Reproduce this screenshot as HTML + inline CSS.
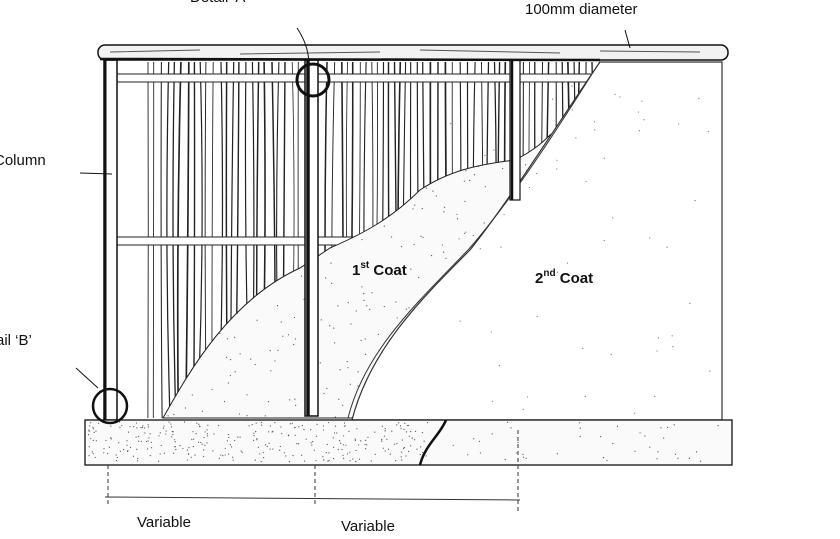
<!DOCTYPE html>
<html><head><meta charset="utf-8"><style>
html,body{margin:0;padding:0;background:#fff;}
svg{display:block;}
text{font-family:"Liberation Sans",sans-serif;fill:#111;}
</style></head><body>
<svg id="s" width="840" height="539" viewBox="0 0 840 539" xmlns="http://www.w3.org/2000/svg">
<defs>
<clipPath id="wc"><rect x="146" y="60" width="455" height="360"/></clipPath>
<clipPath id="c1"><path d="M163,418 C190,370 230,300 300,268 L330,248 C360,235 390,220 420,190 C450,170 480,165 500,162 L515,160 C535,150 545,140 550,135 L548,175 C500,230 430,300 352,418 Z"/></clipPath>
</defs>
<g id="wattle" clip-path="url(#wc)" stroke="#222" stroke-width="1" fill="none"></g>
<g stroke="#222" fill="#fff" stroke-width="1">
<rect x="114" y="74" width="480" height="8" rx="4"/>
<rect x="114" y="237" width="270" height="8" rx="4"/>
</g>
<path d="M163,418 C190,370 230,300 300,268 L330,248 C360,235 390,220 420,190 C450,170 480,165 500,162 L515,160 C535,150 545,140 550,135 L548,175 C500,230 430,300 352,418 Z" fill="#fafafa" stroke="#222" stroke-width="1"/>
<g id="d1" fill="#555" clip-path="url(#c1)"></g>
<path d="M600,62 L722,62 L722,420 L352,420 C370,350 420,300 470,250 C510,200 560,120 600,62 Z" fill="#fff" stroke="#333" stroke-width="1.2"/>
<path d="M597,66 C560,125 512,200 468,250 C420,300 365,350 348,418" fill="none" stroke="#333" stroke-width="1"/>
<g id="d2" fill="#777"></g>
<g stroke="#111" fill="#fff">
<rect x="104" y="60" width="13" height="360" stroke-width="1.5"/>
<line x1="105" y1="60" x2="105" y2="420" stroke-width="3"/>
<rect x="305" y="60" width="13" height="356" stroke-width="1.5"/>
<line x1="308" y1="60" x2="308" y2="416" stroke-width="3.5"/>
<rect x="510" y="60" width="10" height="140" stroke-width="1.2"/>
<line x1="512" y1="60" x2="512" y2="200" stroke-width="2.5"/>
</g>
<rect x="98" y="45" width="630" height="15" rx="7" fill="#f2f2f2" stroke="#111" stroke-width="1.5"/>
<path d="M110,52 L200,50 M240,54 L380,52 M420,50 L560,53 M600,51 L700,52" stroke="#555" stroke-width="1"/>
<line x1="100" y1="59" x2="600" y2="60" stroke="#111" stroke-width="2.5"/>
<rect x="85" y="420" width="647" height="45" fill="#fafafa" stroke="#111" stroke-width="1.3"/>
<path d="M446,420 C440,435 425,445 420,465" fill="none" stroke="#111" stroke-width="2.5"/>
<g id="dots" fill="#555"></g>
<circle cx="313" cy="80" r="16" fill="none" stroke="#111" stroke-width="3"/>
<circle cx="110" cy="406" r="17" fill="none" stroke="#111" stroke-width="2.5"/>
<path d="M297,28 C305,40 308,50 309,62" fill="none" stroke="#111"/>
<path d="M625,30 L630,48" stroke="#111"/>
<path d="M80,173 L112,174" stroke="#111"/>
<path d="M76,368 L98,388" stroke="#111"/>
<g stroke="#333" stroke-width="1">
<line x1="105" y1="497" x2="520" y2="500"/>
<line x1="108" y1="465" x2="108" y2="505" stroke-dasharray="4,3"/>
<line x1="315" y1="465" x2="315" y2="506" stroke-dasharray="4,3"/>
<line x1="518" y1="430" x2="518" y2="512" stroke-dasharray="4,3"/>
</g>
<text x="137" y="527" font-size="15">Variable</text>
<text x="341" y="531" font-size="15">Variable</text>
<text x="190" y="2" font-size="15">Detail 'A'</text>
<text x="525" y="14" font-size="15">100mm diameter</text>
<text x="-6" y="165" font-size="15">Column</text>
<text x="-4" y="345" font-size="15">ail ‘B’</text>
<text x="352" y="275" font-size="15" font-weight="bold">1<tspan font-size="10" dy="-7">st</tspan><tspan dy="7"> Coat</tspan></text>
<text x="535" y="283" font-size="15" font-weight="bold">2<tspan font-size="10" dy="-7">nd</tspan><tspan dy="7"> Coat</tspan></text>
</svg>
<script>
(function(){
var ns="http://www.w3.org/2000/svg",g=document.getElementById("wattle");
var seed=7;function r(){seed=(seed*9301+49297)%233280;return seed/233280;}
for(var x=148;x<600;x+=5+r()*3){
 if(x>300&&x<322)continue;
 var p=document.createElementNS(ns,"path");
 var x2=x+(r()-0.5)*8;
 p.setAttribute("d","M"+x.toFixed(1)+",62 Q"+(x+(r()-0.5)*10).toFixed(1)+",240 "+x2.toFixed(1)+",418");
 p.setAttribute("stroke-width",(0.8+r()*0.9).toFixed(2));
 g.appendChild(p);
}
function dots(id,x0,y0,w,h,n){var d=document.getElementById(id);for(var i=0;i<n;i++){var c=document.createElementNS(ns,"circle");c.setAttribute("cx",x0+r()*w);c.setAttribute("cy",y0+r()*h);c.setAttribute("r",0.6);d.appendChild(c);}}
dots("dots",88,422,340,40,300);dots("dots",450,422,280,40,40);
dots("d1",160,135,390,285,350);dots("d2",450,80,270,335,60);
})();
</script>
</body></html>
